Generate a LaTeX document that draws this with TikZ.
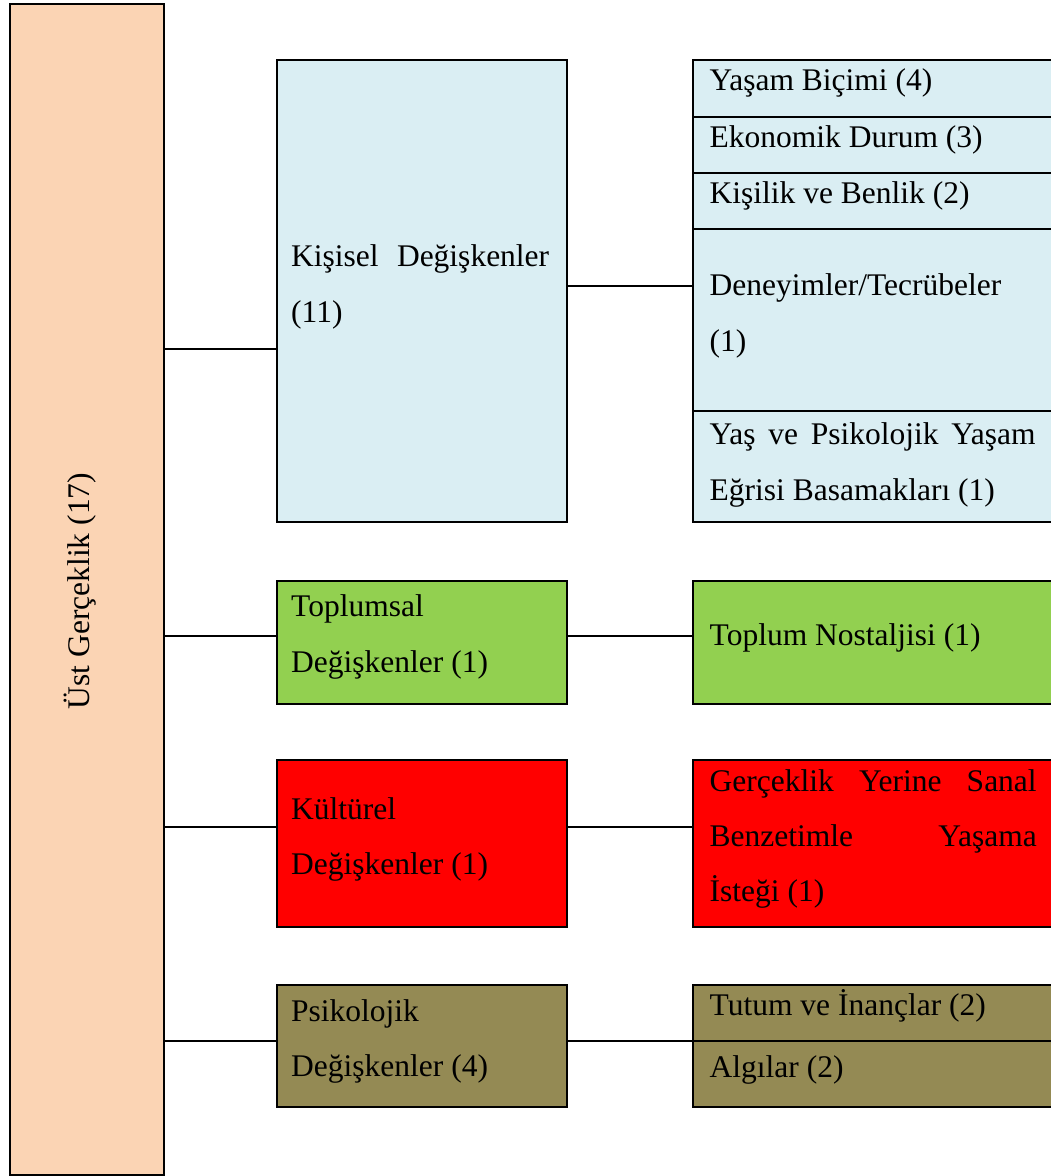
\documentclass[tikz,border=0pt]{standalone}
\usepackage{fontspec}
\setmainfont{Liberation Serif}
\definecolor{peach}{HTML}{FBD4B4}
\definecolor{paleblue}{HTML}{DAEEF3}
\definecolor{leafgreen}{HTML}{92D050}
\definecolor{brightred}{HTML}{FF0000}
\definecolor{olive}{HTML}{948A54}
\begin{document}
\begin{tikzpicture}[x=1pt,y=-1pt,
  box/.style={draw=black, line width=2pt, inner sep=0pt, outer sep=0pt, anchor=north west, rectangle},
  lbl/.style={anchor=base west, inner sep=0pt, font=\fontsize{31.5}{38}\selectfont},
  link/.style={draw=black, line width=2pt}]
\clip (0,0) rectangle (1051,1176);

% root
\node[box, fill=peach, minimum width=153.5pt, minimum height=1170.4pt] (ust) at (10,4.3) {};
\node[anchor=base, inner sep=0pt, rotate=90, font=\fontsize{31.5}{38}\selectfont] (ustT) at (89,591) {Üst Gerçeklik (17)};

% second column
\node[box, fill=paleblue, minimum width=289.7pt, minimum height=461.7pt] (kis) at (277,60.3) {};
\node[box, fill=leafgreen, minimum width=289.7pt, minimum height=123.5pt] (top) at (277,580.5) {};
\node[box, fill=brightred, minimum width=289.7pt, minimum height=167pt] (kul) at (277,760) {};
\node[box, fill=olive, minimum width=289.7pt, minimum height=122pt] (psi) at (277,985) {};

\node[lbl] (kisA) at (291,266) {\hbox to 258pt{Kişisel\hfill Değişkenler}};
\node[lbl] (kisB) at (291,322) {(11)};
\node[lbl] (topA) at (291,616) {Toplumsal};
\node[lbl] (topB) at (291,672) {Değişkenler (1)};
\node[lbl] (kulA) at (291,819) {Kültürel};
\node[lbl] (kulB) at (291,874) {Değişkenler (1)};
\node[lbl] (psiA) at (291,1021) {Psikolojik};
\node[lbl] (psiB) at (291,1076) {Değişkenler (4)};

% third column
\node[box, fill=paleblue, minimum width=370pt, minimum height=56.4pt] (yasam) at (693,60.3) {};
\node[box, fill=paleblue, minimum width=370pt, minimum height=56pt] (eko) at (693,116.7) {};
\node[box, fill=paleblue, minimum width=370pt, minimum height=56.6pt] (kisilik) at (693,172.7) {};
\node[box, fill=paleblue, minimum width=370pt, minimum height=181.7pt] (deney) at (693,229.3) {};
\node[box, fill=paleblue, minimum width=370pt, minimum height=111pt] (yas) at (693,411) {};
\node[box, fill=leafgreen, minimum width=370pt, minimum height=123.5pt] (nost) at (693,580.5) {};
\node[box, fill=brightred, minimum width=370pt, minimum height=167pt] (gerc) at (693,760) {};
\node[box, fill=olive, minimum width=370pt, minimum height=56pt] (tutum) at (693,985) {};
\node[box, fill=olive, minimum width=370pt, minimum height=66pt] (algi) at (693,1041) {};

\node[lbl] (yasamT) at (709.5,90.5) {Yaşam Biçimi (4)};
\node[lbl] (ekoT) at (709.5,147) {Ekonomik Durum (3)};
\node[lbl] (kisilikT) at (709.5,203) {Kişilik ve Benlik (2)};
\node[lbl] (deneyA) at (709.5,295) {Deneyimler/Tecrübeler};
\node[lbl] (deneyB) at (709.5,351) {(1)};
\node[lbl] (yasA) at (709.5,444) {\hbox to 326pt{Yaş\hfill ve\hfill Psikolojik\hfill Yaşam}};
\node[lbl] (yasB) at (709.5,500) {Eğrisi Basamakları (1)};
\node[lbl] (nostT) at (709.5,645) {Toplum Nostaljisi (1)};
\node[lbl] (gercA) at (709.5,791) {\hbox to 327pt{Gerçeklik\hfill Yerine\hfill Sanal}};
\node[lbl] (gercB) at (709.5,846) {\hbox to 327pt{Benzetimle\hfill Yaşama}};
\node[lbl] (gercC) at (709.5,901) {İsteği (1)};
\node[lbl] (tutumT) at (709.5,1015) {Tutum ve İnançlar (2)};
\node[lbl] (algiT) at (709.5,1077) {Algılar (2)};

% connector heights
\coordinate (h1) at (0,349);
\coordinate (h2) at (0,286);
\coordinate (h3) at (0,635.7);
\coordinate (h4) at (0,827);
\coordinate (h5) at (0,1041);

\draw[link] (ust.east |- h1) -- (kis.west |- h1);
\draw[link] (ust.east |- h3) -- (top.west |- h3);
\draw[link] (ust.east |- h4) -- (kul.west |- h4);
\draw[link] (ust.east |- h5) -- (psi.west |- h5);

\draw[link] (kis.east |- h2) -- (deney.west |- h2);
\draw[link] (top.east |- h3) -- (nost.west |- h3);
\draw[link] (kul.east |- h4) -- (gerc.west |- h4);
\draw[link] (psi.east |- h5) -- (tutum.west |- h5);
\end{tikzpicture}
\end{document}
